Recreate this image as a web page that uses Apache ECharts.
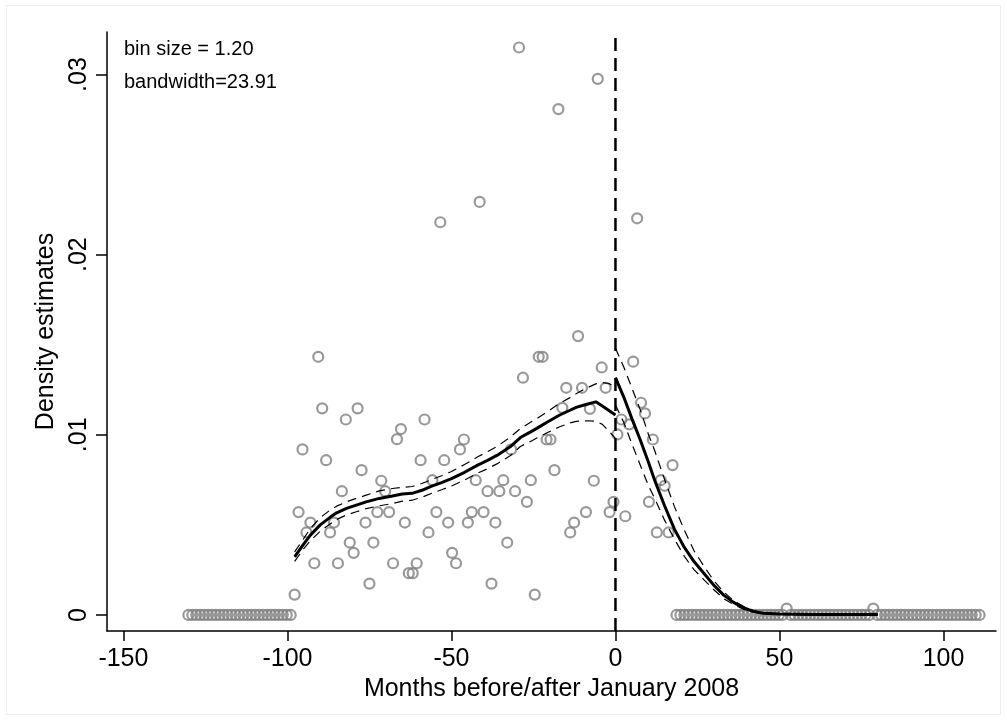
<!DOCTYPE html>
<html>
<head>
<meta charset="utf-8">
<script src="https://cdn.jsdelivr.net/npm/echarts@6/dist/echarts.min.js"></script>
<style>
html,body{margin:0;padding:0;background:#fff;}
#chart{width:1007px;height:722px;}
</style>
</head>
<body>
<div id="chart"></div>
<script>
// Bin centers (months) and binned density estimates
const binCenters = [
 -130.2,-129.0,-127.8,-126.6,-125.4,-124.2,-123.0,-121.8,-120.6,-119.4,-118.2,-117.0,-115.8,-114.6,-113.4,-112.2,-111.0,-109.8,-108.6,-107.4,-106.2,-105.0,-103.8,-102.6,-101.4,-100.2,-99.0,
 -97.8,-96.6,-95.4,-94.2,-93.0,-91.8,-90.6,-89.4,-88.2,-87.0,-85.8,-84.6,-83.4,-82.2,-81.0,-79.8,-78.6,-77.4,-76.2,-75.0,
 -73.8,-72.6,-71.4,-70.2,-69.0,-67.8,-66.6,-65.4,-64.2,-63.0,-61.8,-60.6,-59.4,-58.2,-57.0,-55.8,-54.6,-53.4,-52.2,-51.0,
 -49.8,-48.6,-47.4,-46.2,-45.0,-43.8,-42.6,-41.4,-40.2,-39.0,-37.8,-36.6,-35.4,-34.2,-33.0,-31.8,-30.6,-29.4,-28.2,-27.0,
 -25.8,-24.6,-23.4,-22.2,-21.0,-19.8,-18.6,-17.4,-16.2,-15.0,-13.8,-12.6,-11.4,-10.2,-9.0,-7.8,-6.6,-5.4,-4.2,-3.0,-1.8,-0.6,
 0.6,1.8,3.0,4.2,5.4,6.6,7.8,9.0,10.2,11.4,12.6,13.8,15.0,16.2,17.4,
 18.6,19.8,21.0,22.2,23.4,24.6,25.8,27.0,28.2,29.4,30.6,31.8,33.0,34.2,35.4,36.6,37.8,39.0,40.2,41.4,42.6,43.8,45.0,46.2,47.4,48.6,49.8,51.0,52.2,53.4,
 54.6,55.8,57.0,58.2,59.4,60.6,61.8,63.0,64.2,65.4,66.6,67.8,69.0,70.2,71.4,72.6,73.8,75.0,76.2,77.4,78.6,79.8,81.0,82.2,83.4,84.6,85.8,87.0,88.2,89.4,
 90.6,91.8,93.0,94.2,95.4,96.6,97.8,99.0,100.2,101.4,102.6,103.8,105.0,106.2,107.4,108.6,109.8,111.0
];
const binDensity = [
 0,0,0,0,0,0,0,0,0,0,0,0,0,0,0,0,0,0,0,0,0,0,0,0,0,0,0,
 0.00113,0.00571,0.00919,0.00458,0.00513,0.00287,0.01433,0.01147,0.00859,0.00458,0.00513,0.00287,0.00687,0.01085,0.00402,0.00345,0.01147,0.00804,0.00513,0.00174,
 0.00402,0.00571,0.00745,0.00687,0.00571,0.00287,0.00976,0.01032,0.00513,0.00232,0.00232,0.00287,0.00859,0.01085,0.00458,0.00748,0.00571,0.02180,0.00859,0.00513,
 0.00345,0.00287,0.00919,0.00974,0.00513,0.00571,0.00748,0.02293,0.00571,0.00687,0.00174,0.00513,0.00687,0.00748,0.00402,0.00919,0.00687,0.03150,0.01317,0.00628,
 0.00748,0.00113,0.01433,0.01433,0.00974,0.00974,0.00804,0.02808,0.01150,0.01261,0.00458,0.00513,0.01548,0.01261,0.00571,0.01144,0.00745,0.02976,0.01374,0.01261,0.00571,0.00628,
 0.01002,0.01085,0.00548,0.01058,0.01406,0.02202,0.01178,0.01119,0.00628,0.00974,0.00458,0.00748,0.00717,0.00458,0.00832,
 0,0,0,0,0,0,0,0,0,0,0,0,0,0,0,0,0,0,0,0,0,0,0,0,0,0,0,0,0.00035,0,
 0,0,0,0,0,0,0,0,0,0,0,0,0,0,0,0,0,0,0,0,0.00035,0,0,0,0,0,0,0,0,0,
 0,0,0,0,0,0,0,0,0,0,0,0,0,0,0,0,0,0
];

// Local linear density fit, left of cutoff
const fitLeftX = [-97.8,-95,-93,-90,-87,-85,-82,-79,-76,-72,-68,-65,-62,-59,-56,-53,-50,-46,-42,-39,-36,-32,-29,-26,-24,-21,-17,-14,-12,-9,-6,-4,-2,0];
const fitLeftY = [0.00322,0.00395,0.00443,0.0050,0.00542,0.00567,0.00592,0.0061,0.00628,0.00647,0.0066,0.00671,0.00675,0.00692,0.00715,0.00735,0.00757,0.00792,0.00832,0.00858,0.00887,0.00935,0.00985,0.01015,0.01036,0.01068,0.0111,0.01135,0.01152,0.01168,0.01183,0.0116,0.01135,0.0111];
const ciLeftHi = [0.0035,0.00425,0.0048,0.0054,0.00582,0.00604,0.00628,0.00647,0.00665,0.00689,0.00702,0.00708,0.00713,0.0073,0.00752,0.00773,0.00796,0.00835,0.00878,0.00906,0.00937,0.00988,0.01035,0.01068,0.0109,0.01125,0.01175,0.01205,0.01228,0.01258,0.01283,0.0129,0.01285,0.01265];
const ciLeftLo = [0.00298,0.00368,0.00412,0.00465,0.00505,0.0053,0.00555,0.00573,0.0059,0.00606,0.00618,0.00632,0.00637,0.00653,0.00676,0.00695,0.00716,0.00749,0.00787,0.00812,0.0084,0.00885,0.00935,0.00962,0.00982,0.0101,0.01045,0.01065,0.01075,0.01078,0.01075,0.01058,0.0102,0.0098];

// Local linear density fit, right of cutoff
const fitRightX = [0,2.5,5,7.6,10,12,15,18,21,24,27,30,33,36,39,42,45,50,60,70,80];
const fitRightY = [0.01317,0.01211,0.0109,0.0097,0.0085,0.00745,0.00605,0.00475,0.00375,0.00295,0.0023,0.00165,0.0011,0.0007,0.0004,0.0002,0.0001,0.00005,0.00003,0.00002,0.00002];
const ciRightHi = [0.0148,0.01378,0.0126,0.01137,0.01005,0.0091,0.0075,0.006,0.0047,0.00355,0.0027,0.0019,0.00128,0.0008,0.00048,0.00025,0.00012,0.00006,0.00003,0.00003,0.00003];
const ciRightLo = [0.01165,0.0107,0.0095,0.0083,0.0072,0.00645,0.00525,0.0042,0.00325,0.0025,0.00195,0.0014,0.0009,0.00058,0.00032,0.00016,0.00008,0.00003,0.00001,0.00001,0.00001];

const xTicks = [-150,-100,-50,0,50,100];
const yTicks = [0,0.01,0.02,0.03];
const cutoff = 0;
const X_MIN = -155, X_MAX = 116;
const Y_MIN = -0.00089, Y_MAX = 0.03236;

const FONT = "'Liberation Sans', Arial, Helvetica, sans-serif";
const zip = (xs, ys) => xs.map((x, i) => [x, ys[i]]);

const chart = echarts.init(document.getElementById('chart'), null, {renderer: 'canvas'});

function lineSeries(data, width, dash) {
  return {
    type: 'line', data: data, symbol: 'none', silent: true, animation: false,
    lineStyle: {color: '#000', width: width, type: dash || 'solid'},
    z: 5
  };
}

chart.setOption({
  animation: false,
  backgroundColor: '#ffffff',
  grid: {left: 107, right: 11, top: 32, bottom: 91},
  xAxis: {
    type: 'value', min: X_MIN, max: X_MAX,
    name: 'Months before/after January 2008',
    nameLocation: 'middle', nameGap: 42,
    nameTextStyle: {fontFamily: FONT, fontSize: 25, color: '#000'},
    axisLine: {show: true, onZero: false, lineStyle: {color: '#000', width: 1.5}},
    axisTick: {show: true, length: 10, lineStyle: {color: '#000', width: 1.5}, customValues: xTicks},
    axisLabel: {fontFamily: FONT, fontSize: 25, color: '#000', margin: 16, customValues: xTicks},
    splitLine: {show: false}
  },
  yAxis: {
    type: 'value', min: Y_MIN, max: Y_MAX,
    name: 'Density estimates',
    nameLocation: 'middle', nameGap: 38, nameRotate: 90,
    nameTextStyle: {fontFamily: FONT, fontSize: 25, color: '#000'},
    axisLine: {show: true, onZero: false, lineStyle: {color: '#000', width: 1.5}},
    axisTick: {show: true, length: 11, lineStyle: {color: '#000', width: 1.5}, customValues: yTicks},
    axisLabel: {
      fontFamily: FONT, fontSize: 25, color: '#000', margin: 15, rotate: 90,
      customValues: yTicks,
      formatter: v => v === 0 ? '0' : String(v.toFixed(2)).replace(/^0/, '')
    },
    splitLine: {show: false}
  },
  graphic: [
    {type: 'rect', shape: {x: 6.5, y: 5.5, width: 994, height: 709}, style: {fill: 'none', stroke: '#eeeeee', lineWidth: 1}, silent: true, z: -1},
    {type: 'text', left: 124, top: 39, style: {text: 'bin size = 1.20', font: '20px ' + FONT, fill: '#000'}},
    {type: 'text', left: 124, top: 72, style: {text: 'bandwidth=23.91', font: '20px ' + FONT, fill: '#000'}}
  ],
  series: [
    {
      type: 'scatter', data: zip(binCenters, binDensity), symbol: 'circle', symbolSize: 10,
      itemStyle: {color: 'rgba(0,0,0,0)', borderColor: '#808080', borderWidth: 2.2},
      silent: true, z: 2
    },
    lineSeries(zip(fitLeftX, ciLeftHi), 1.2, [9, 6]),
    lineSeries(zip(fitLeftX, ciLeftLo), 1.2, [9, 6]),
    lineSeries(zip(fitRightX, ciRightHi), 1.2, [9, 6]),
    lineSeries(zip(fitRightX, ciRightLo), 1.2, [9, 6]),
    lineSeries(zip(fitLeftX, fitLeftY), 3, 'solid'),
    lineSeries(zip(fitRightX, fitRightY), 3, 'solid'),
    lineSeries([[cutoff, Y_MIN], [cutoff, Y_MAX]], 2.5, [13, 7])
  ]
});
</script>
</body>
</html>
